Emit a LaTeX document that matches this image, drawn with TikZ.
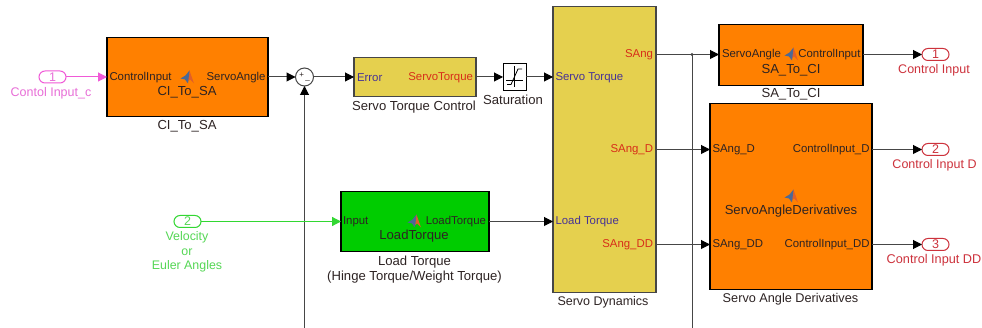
\documentclass[tikz,border=0pt]{standalone}
\usepackage{fontspec}
\setmainfont{Liberation Sans}
\usetikzlibrary{arrows.meta,shapes.misc}
\definecolor{orblock}{RGB}{255,128,0}
\definecolor{yelblock}{RGB}{229,208,78}
\definecolor{grnblock}{RGB}{0,204,0}
\definecolor{magline}{RGB}{240,90,215}
\definecolor{magtext}{RGB}{232,110,215}
\definecolor{grnline}{RGB}{50,215,50}
\definecolor{grntext}{RGB}{85,215,85}
\definecolor{redtext}{RGB}{205,50,60}
\definecolor{porttext}{RGB}{215,45,25}
\definecolor{bluetext}{RGB}{70,50,150}
\definecolor{darktext}{RGB}{45,35,35}
\definecolor{linecol}{RGB}{70,70,70}
\definecolor{logoblue}{RGB}{75,105,150}
\definecolor{logoorange}{RGB}{225,95,40}
\tikzset{
  x=1pt,y=-1pt,
  every node/.style={font=\fontsize{12.5}{14.4}\selectfont,inner sep=0,outer sep=0,text=darktext,align=center},
  portlbl/.style={font=\fontsize{11.4}{13}\selectfont},
  bigcap/.style={font=\fontsize{13.1}{14.4}\selectfont},
  block/.style={draw=black,line width=1.8pt,fill=orblock},
  ablock/.style={draw=linecol,line width=1.1pt,fill=yelblock},
  gblock/.style={draw=black,line width=1.8pt,fill=grnblock},
  wire/.style={draw=linecol,line width=1pt,-{Triangle[length=9pt,width=9pt,color=black]}},
  plain/.style={draw=linecol,line width=1pt},
  oport/.style={rounded rectangle,draw,line width=1pt,fill=white,minimum width=27pt,minimum height=12pt},
}
\newcommand{\mlogo}[2]{%
  \fill[logoorange] (#1-0.5,#2+5) -- (#1+2.5,#2-7) -- (#1+7,#2+6) -- (#1+3,#2+2) -- cycle;
  \fill[logoblue] (#1-6.500,#2+1) -- (#1-1.500,#2-2) -- (#1+2.5,#2-7) -- (#1+1,#2+6) -- (#1-2,#2+2) -- cycle;
}
\begin{document}
\begin{tikzpicture}
\useasboundingbox[fill=white] (0,0) rectangle (982,328);
\begin{scope}[yshift=-0.5pt]

% blocks
\node[block,minimum width=161pt,minimum height=79pt] (cits) at (187.5,76.5) {};
\node[ablock,minimum width=122pt,minimum height=39pt] (stc) at (415,76.5) {};
\node[draw=black,line width=1pt,fill=white,minimum width=23pt,minimum height=27pt] (sat) at (514.5,76.5) {};
\node[ablock,minimum width=103pt,minimum height=286pt] (dyn) at (604.5,149) {};
\node[block,minimum width=144pt,minimum height=61pt] (satc) at (791,54.5) {};
\node[block,minimum width=162pt,minimum height=186pt] (der) at (791,196) {};
\node[gblock,minimum width=148pt,minimum height=60pt] (load) at (415,221) {};
\node[circle,draw=linecol,line width=1pt,fill=white,minimum size=18pt] (sum) at (304.5,76.5) {};
\node[font=\fontsize{8}{8}\selectfont] (sumsign) at (304.5,76.5) {+\,\raisebox{-2pt}{\_}};

% ports (inports and outports)
\node[oport,draw=magline,text=magtext] (in1) at (52.5,76.5) {1};
\node[oport,draw=grnline,text=grntext] (in2) at (187.5,221) {2};
\node[oport,draw=redtext,text=redtext] (out1) at (935.5,54) {1};
\node[oport,draw=redtext,text=redtext] (out2) at (935.5,149) {2};
\node[oport,draw=redtext,text=redtext] (out3) at (935.5,244) {3};

% port coordinates
\coordinate (dynTin) at (553,76.5);
\coordinate (dynLin) at (553,221);
\coordinate (dynA) at (656,54);
\coordinate (dynD) at (656,149);
\coordinate (dynDD) at (656,244);
\coordinate (satcIn) at (719,54);
\coordinate (satcOut) at (863,54);
\coordinate (derD) at (710,149);
\coordinate (derDD) at (710,244);
\coordinate (derOutD) at (872,149);
\coordinate (derOutDD) at (872,244);
\coordinate (branch) at (692,54);
\coordinate (branchEnd) at (692,329);
\coordinate (fbStart) at (304.5,329);

% connectors
\draw[wire,draw=magline,-{Triangle[length=9pt,width=9pt,color=magline]}] (in1.east) -- (cits.west);
\draw[wire] (cits.east) -- (sum.west);
\draw[wire] (sum.east) -- (stc.west);
\draw[wire] (stc.east) -- (sat.west);
\draw[wire] (sat.east) -- (dynTin);
\draw[wire] (dynA) -- (satcIn);
\draw[wire] (dynD) -- (derD);
\draw[wire] (dynDD) -- (derDD);
\draw[wire] (satcOut) -- (out1.west);
\draw[wire] (derOutD) -- (out2.west);
\draw[wire] (derOutDD) -- (out3.west);
\draw[wire] (load.east) -- (dynLin);
\draw[plain] (branch) -- (branchEnd);
\fill[linecol] (branch) circle (1.6);
\draw[wire] (fbStart) -- (sum.south);
\draw[wire,line width=1.2pt,draw=grnline,-{Triangle[length=9pt,width=9pt,color=grnline]}] (in2.east) -- (load.west);

% saturation icon
\draw[black,line width=.7pt] (514.5,66) -- (514.5,87) (506,80) -- (523,80);
\draw[black,line width=.8pt] (507,84) -- (511,84) -- (518,68.500) -- (522,68.500);

% block interior text
\node[anchor=west,portlbl] (t1) at (109.500,77.500) {ControlInput};
\node[anchor=east,portlbl] (t2) at (265.5,77.500) {ServoAngle};
\node[bigcap] (t3) at (187,92) {CI\_To\_SA};
\mlogo{187}{77}
\node[anchor=west,portlbl,text=bluetext] (t4) at (357,77.500) {Error};
\node[anchor=east,portlbl,text=porttext] (t5) at (473,77.500) {ServoTorque};
\node[anchor=west,portlbl,text=bluetext] (t6) at (555.5,77.500) {Servo Torque};
\node[anchor=west,portlbl,text=bluetext] (t7) at (555.5,221.500) {Load Torque};
\node[anchor=east,portlbl,text=porttext] (t8) at (653,54.500) {SAng};
\node[anchor=east,portlbl,text=porttext] (t9) at (653,149.500) {SAng\_D};
\node[anchor=east,portlbl,text=porttext] (t10) at (653,244.500) {SAng\_DD};
\node[anchor=west,portlbl] (t11) at (722,54.500) {ServoAngle};
\node[anchor=east,portlbl] (t12) at (860.5,54.500) {ControlInput};
\mlogo{791}{54}
\node[bigcap] (t13) at (791,69.500) {SA\_To\_CI};
\node[anchor=west,portlbl] (t14) at (712.5,149.500) {SAng\_D};
\node[anchor=west,portlbl] (t15) at (712.5,244.500) {SAng\_DD};
\node[anchor=east,portlbl] (t16) at (869.5,149.500) {ControlInput\_D};
\node[anchor=east,portlbl] (t17) at (869.5,244.500) {ControlInput\_DD};
\mlogo{791}{196}
\node[bigcap] (t18) at (791,211) {ServoAngleDerivatives};
\node[anchor=west,portlbl] (t19) at (343,221.500) {Input};
\node[anchor=east,portlbl] (t20) at (486,221.500) {LoadTorque};
\mlogo{414}{221}
\node[bigcap] (t21) at (414,236) {LoadTorque};

% block captions
\node[bigcap] (c1) at (187,126) {CI\_To\_SA};
\node[bigcap] (c2) at (414,106.500) {Servo Torque Control};
\node[bigcap] (c3) at (513,99) {Saturation};
\node (c4) at (603,302) {Servo Dynamics};
\node[bigcap] (c5) at (791,94) {SA\_To\_CI};
\node[font=\fontsize{12.7}{14.4}\selectfont] (c6) at (790.5,298.500) {Servo Angle Derivatives};
\node[bigcap] (c7) at (414.500,269) {Load Torque\\(Hinge Torque/Weight Torque)};

% port captions
\node[text=magtext] (c8) at (51,92.500) {Contol Input\_c};
\node[text=grntext,font=\fontsize{12.4}{14.4}\selectfont] (c9) at (187,251.500) {Velocity\\or\\Euler Angles};
\node[text=redtext] (c10) at (934,70) {Control Input};
\node[text=redtext] (c11) at (934.500,165) {Control Input D};
\node[text=redtext,font=\fontsize{12.7}{14.4}\selectfont] (c12) at (934,260) {Control Input DD};
\end{scope}
\end{tikzpicture}
\end{document}
